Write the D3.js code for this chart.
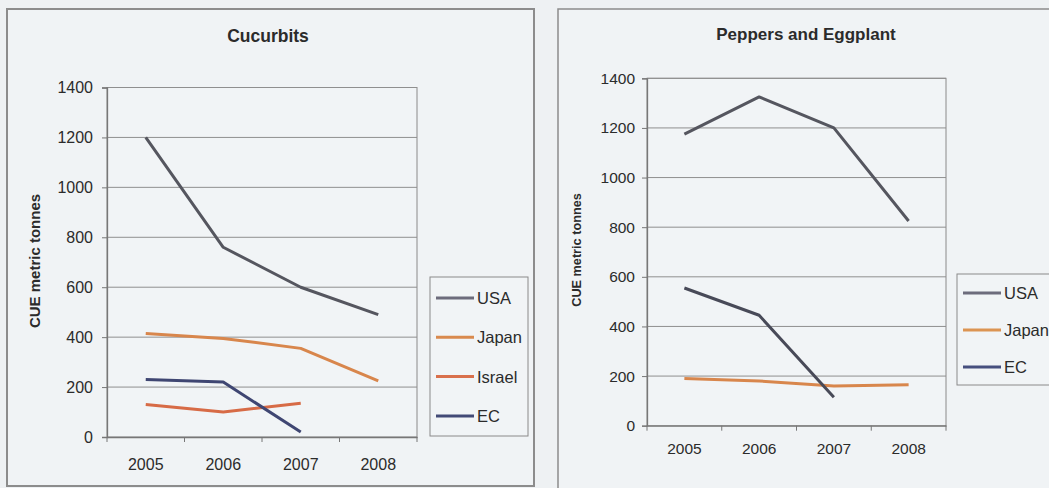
<!DOCTYPE html>
<html>
<head>
<meta charset="utf-8">
<script src="https://cdn.jsdelivr.net/npm/d3@7"></script>
<style>
  html, body { margin: 0; padding: 0; background: #eef1f3; }
  svg { display: block; }
  text { font-family: "Liberation Sans", Arial, Helvetica, sans-serif; fill: #2b2b2b; }
</style>
</head>
<body>
<svg id="chart" width="1049" height="488"></svg>
<script>
// Critical-use exemptions (CUE), metric tonnes, by nominating party
const years = ["2005", "2006", "2007", "2008"];
const yTicks = [0, 200, 400, 600, 800, 1000, 1200, 1400];

// Cucurbits
const cucurbitsUSA    = [1200, 760, 600, 490];
const cucurbitsJapan  = [415, 395, 355, 225];
const cucurbitsIsrael = [130, 100, 135, null];
const cucurbitsEC     = [230, 220, 20, null];

// Peppers and Eggplant
const peppersUSA   = [1175, 1325, 1200, 825];
const peppersJapan = [190, 180, 160, 165];
const peppersEC    = [555, 445, 115, null];

const svg = d3.select("#chart");

function drawPanel(cfg) {
  const g = svg.append("g");

  // panel frame
  g.append("rect")
    .attr("x", cfg.frame[0]).attr("y", cfg.frame[1])
    .attr("width", cfg.frame[2]).attr("height", cfg.frame[3])
    .attr("fill", "#f0f3f5").attr("stroke", "#8c8c8c").attr("stroke-width", cfg.frameWidth);

  const x = d3.scaleBand().domain(years).range([cfg.left, cfg.right]).padding(0);
  const y = d3.scaleLinear().domain([0, 1400]).range([cfg.bottom, cfg.top]);

  // plot area
  g.append("rect")
    .attr("x", cfg.left).attr("y", y(1400))
    .attr("width", cfg.right - cfg.left).attr("height", y(0) - y(1400))
    .attr("fill", "#f1f4f6").attr("stroke", "#8a8a8a").attr("stroke-width", 1);

  // horizontal gridlines
  g.append("g").selectAll("line").data(yTicks.filter(d => d > 0)).join("line")
    .attr("x1", cfg.left).attr("x2", cfg.right)
    .attr("y1", d => y(d)).attr("y2", d => y(d))
    .attr("stroke", "#8f8f8f").attr("stroke-width", 1);

  // y axis
  const yAxis = g.append("g")
    .attr("transform", `translate(${cfg.left},0)`)
    .call(d3.axisLeft(y).tickValues(yTicks).tickSize(5).tickPadding(cfg.yPad).tickFormat(d3.format("d")));
  yAxis.select(".domain").attr("stroke", "#777").attr("stroke-width", 1.3);
  yAxis.selectAll(".tick line").attr("stroke", "#777");
  yAxis.selectAll(".tick text")
    .attr("font-size", cfg.tickSize).attr("fill", "#2b2b2b")
    .style("font-family", '"Liberation Sans", Arial, sans-serif');

  // x axis: labels centred in each band, ticks on band boundaries
  const xAxis = g.append("g")
    .attr("transform", `translate(0,${y(0)})`)
    .call(d3.axisBottom(x).tickSize(0).tickPadding(cfg.xPad));
  xAxis.select(".domain").attr("stroke", "#777").attr("stroke-width", 1.3);
  xAxis.selectAll(".tick text")
    .attr("font-size", cfg.tickSize).attr("fill", "#2b2b2b")
    .style("font-family", '"Liberation Sans", Arial, sans-serif');
  g.append("g").selectAll("line").data(years.concat(["end"])).join("line")
    .attr("x1", d => d === "end" ? cfg.right : x(d))
    .attr("x2", d => d === "end" ? cfg.right : x(d))
    .attr("y1", y(0)).attr("y2", y(0) + 5)
    .attr("stroke", "#777").attr("stroke-width", 1);

  // title
  g.append("text")
    .attr("x", cfg.titleX).attr("y", cfg.titleY)
    .attr("text-anchor", "middle")
    .attr("font-size", cfg.titleSize).attr("font-weight", "bold")
    .text(cfg.title);

  // y axis title
  g.append("text")
    .attr("transform", `translate(${cfg.yTitleX},${cfg.yTitleY}) rotate(-90)`)
    .attr("text-anchor", "middle")
    .attr("font-size", cfg.yTitleSize).attr("font-weight", "bold")
    .text("CUE metric tonnes");

  // series lines
  const line = d3.line()
    .defined(d => d.v !== null)
    .x(d => x(d.year) + x.bandwidth() / 2)
    .y(d => y(d.v));

  cfg.series.forEach(s => {
    g.append("path")
      .datum(years.map((yr, i) => ({ year: yr, v: s.values[i] })))
      .attr("d", line)
      .attr("fill", "none")
      .attr("stroke", s.color)
      .attr("stroke-width", 3)
      .attr("stroke-linejoin", "round");
  });

  // legend
  const lg = g.append("g");
  lg.append("rect")
    .attr("x", cfg.legend.x).attr("y", cfg.legend.y)
    .attr("width", cfg.legend.w).attr("height", cfg.legend.h)
    .attr("fill", "#f1f4f6").attr("stroke", "#8a8a8a").attr("stroke-width", 1);
  const items = lg.selectAll("g.item").data(cfg.series).join("g")
    .attr("class", "item")
    .attr("transform", (d, i) => `translate(${cfg.legend.x},${cfg.legend.first + i * cfg.legend.step})`);
  items.append("line")
    .attr("x1", 6).attr("x2", 44)
    .attr("stroke", d => d.legendColor || d.color).attr("stroke-width", 3);
  items.append("text")
    .attr("x", 47).attr("dy", "0.36em")
    .attr("font-size", cfg.legend.size)
    .text(d => d.name);
}

drawPanel({
  frame: [7, 9, 527, 477], frameWidth: 2,
  left: 107, right: 417, top: 87.5, bottom: 437,
  tickSize: 16, yPad: 9, xPad: 22,
  title: "Cucurbits", titleX: 268, titleY: 42, titleSize: 17.5,
  yTitleX: 40, yTitleY: 261, yTitleSize: 15,
  series: [
    { name: "USA",    values: cucurbitsUSA,    color: "#55565f", legendColor: "#6d6c7c" },
    { name: "Japan",  values: cucurbitsJapan,  color: "#d8864c", legendColor: "#d98a4e" },
    { name: "Israel", values: cucurbitsIsrael, color: "#d76b46", legendColor: "#d9704c" },
    { name: "EC",     values: cucurbitsEC,     color: "#3f4672", legendColor: "#424a76" }
  ],
  legend: { x: 430, y: 277, w: 98, h: 159, first: 298, step: 39.3, size: 16.5 }
});

drawPanel({
  frame: [558, 9, 500, 490], frameWidth: 1.5,
  left: 647, right: 946, top: 78.3, bottom: 425.7,
  tickSize: 15.5, yPad: 7, xPad: 17,
  title: "Peppers and Eggplant", titleX: 806, titleY: 39.5, titleSize: 17,
  yTitleX: 581, yTitleY: 250, yTitleSize: 12.7,
  series: [
    { name: "USA",   values: peppersUSA,   color: "#55565f", legendColor: "#6d6c7c" },
    { name: "Japan", values: peppersJapan, color: "#d8864c", legendColor: "#dc9452" },
    { name: "EC",    values: peppersEC,    color: "#484a58", legendColor: "#464f7e" }
  ],
  legend: { x: 957, y: 274, w: 100, h: 111, first: 293, step: 37, size: 16.5 }
});
</script>
</body>
</html>
